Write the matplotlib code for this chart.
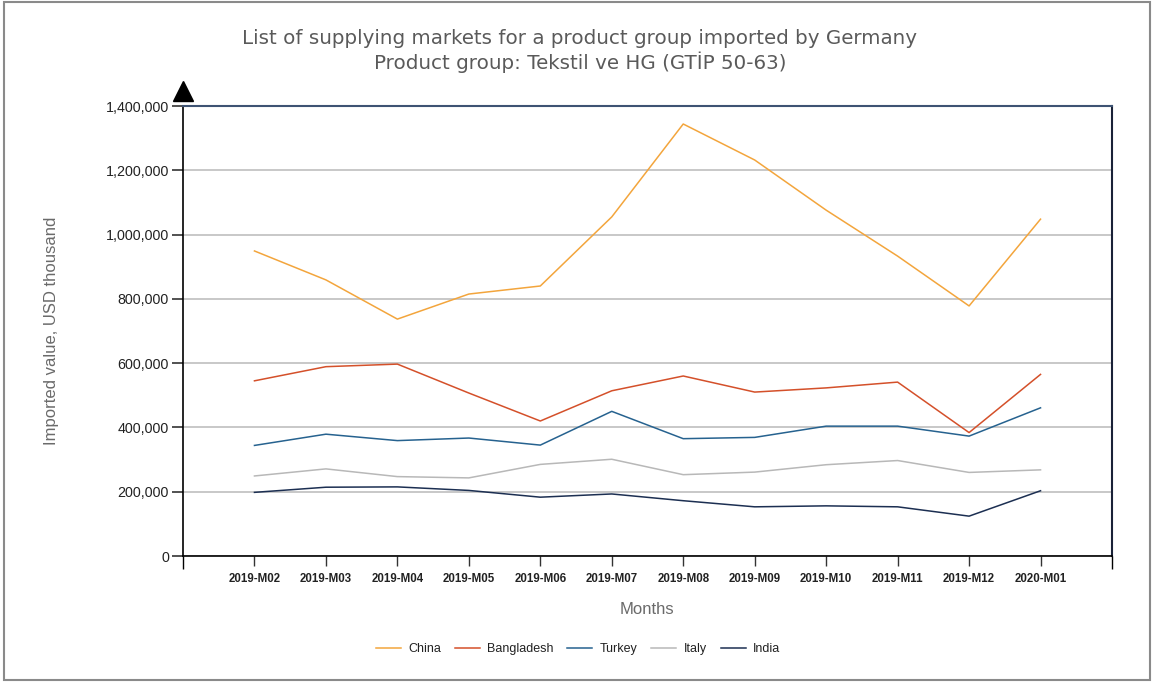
import matplotlib
matplotlib.use("Agg")
import matplotlib.pyplot as plt
from matplotlib.patches import Rectangle
from matplotlib.ticker import FuncFormatter

months = ["2019-M02", "2019-M03", "2019-M04", "2019-M05", "2019-M06", "2019-M07",
          "2019-M08", "2019-M09", "2019-M10", "2019-M11", "2019-M12", "2020-M01"]
china = [949000, 859000, 737000, 815000, 840000, 1055000, 1344000, 1232000, 1076000, 933000, 778000, 1048000]
bangladesh = [545000, 589000, 597000, 507000, 420000, 514000, 560000, 510000, 523000, 541000, 384000, 565000]
turkey = [344000, 379000, 359000, 367000, 345000, 450000, 365000, 369000, 404000, 404000, 373000, 461000]
italy = [249000, 271000, 247000, 243000, 285000, 301000, 253000, 261000, 284000, 297000, 260000, 268000]
india = [198000, 214000, 215000, 204000, 183000, 193000, 172000, 153000, 156000, 153000, 124000, 203000]
series_names = ["China", "Bangladesh", "Turkey", "Italy", "India"]
yticks = [0, 200000, 400000, 600000, 800000, 1000000, 1200000, 1400000]

colors = ["#f3a53c", "#d4502a", "#26628f", "#b8b8b8", "#1c2f52"]

plt.rcParams['font.family'] = ['Liberation Sans', 'DejaVu Sans']

W, H = 1153, 682
fig = plt.figure(figsize=(W / 100, H / 100), dpi=100)
fig.patches.append(Rectangle((4 / W, 2 / H), 1146 / W, 678 / H, transform=fig.transFigure,
                             fill=False, edgecolor="#8a8a8a", linewidth=1.5))

ax = fig.add_axes([183 / W, 1 - 556 / H, (1112 - 183) / W, 450 / H])
x = list(range(len(months)))
for vals, name, c in zip([china, bangladesh, turkey, italy, india], series_names, colors):
    ax.plot(x, vals, color=c, linewidth=1.1, label=name)

ax.set_xlim(-1, 12)
ax.set_ylim(0, 1400000)
ax.set_yticks(yticks)
ax.yaxis.set_major_formatter(FuncFormatter(lambda v, p: f"{int(v):,}"))
ax.set_xticks(x)
ax.set_xticklabels(months, fontsize=8.3, fontweight="bold", color="#222222")
ax.set_xticks([-1, 12], minor=True)
ax.tick_params(axis="x", which="minor", length=9, width=1, color="black")
ax.tick_params(axis="x", which="major", length=7, width=1, color="#333333", pad=5)
ax.tick_params(axis="y", which="major", length=8, width=1.2, color="#333333",
               labelsize=10.3, labelcolor="#222222", pad=2)

ax.grid(axis="y", color="#c4c4c4", linewidth=1.3)
ax.set_axisbelow(True)
ax.spines["top"].set_color("#3e5373")
ax.spines["top"].set_linewidth(1.5)
ax.spines["right"].set_color("#1a2238")
ax.spines["right"].set_linewidth(1.5)
ax.spines["left"].set_color("black")
ax.spines["bottom"].set_color("black")
ax.spines["left"].set_linewidth(1.2)
ax.spines["bottom"].set_linewidth(1.2)

# axis arrow
ax.plot([0], [1.033], marker="^", markersize=15, color="black", transform=ax.transAxes,
        clip_on=False)

fig.text(580 / W, 1 - 38 / H, "List of supplying markets for a product group imported by Germany",
         ha="center", va="center", fontsize=14.3, color="#5a5a5a", family=["DejaVu Sans"])
fig.text(580 / W, 1 - 62 / H, "Product group: Tekstil ve HG (GTİP 50-63)",
         ha="center", va="center", fontsize=14.3, color="#5a5a5a", family=["DejaVu Sans"])

fig.text(52 / W, 1 - 331 / H, "Imported value, USD thousand", rotation=90, ha="center", va="center",
         fontsize=12, color="#6a6a6a")
fig.text(647 / W, 1 - 609 / H, "Months", ha="center", va="center", fontsize=12, color="#6a6a6a")

fig.legend(loc="center", bbox_to_anchor=(578 / W, 1 - 649 / H), ncol=5, frameon=False,
           fontsize=9, handlelength=2.0, columnspacing=1.1, handletextpad=0.6,
           labelcolor="#222222")

fig.savefig("out.png", dpi=100)
